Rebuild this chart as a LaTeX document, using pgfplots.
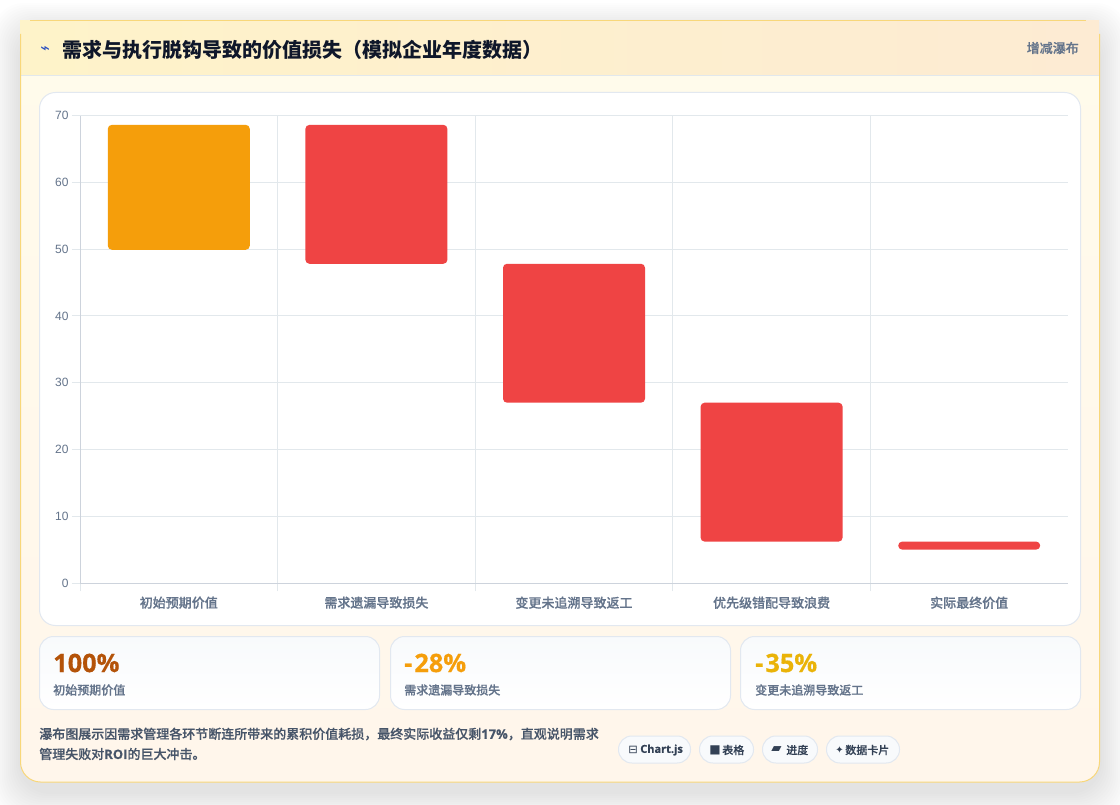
\documentclass[border=0pt]{standalone}
\usepackage{pgfplots}
\pgfplotsset{compat=1.18}
\usepackage{fontspec}
\setmainfont{Liberation Sans}
\newfontfamily\cjk{Noto Sans CJK SC}
\newfontfamily\cjkm[FakeBold=0.5]{Noto Sans CJK SC Medium}
\newfontfamily\num[BoldFeatures={FakeBold=0.5}]{Open Sans}
\newfontfamily\numl{Open Sans}
\newfontfamily\sym{DejaVu Sans}
\definecolor{cardline}{HTML}{F8D77A}
\definecolor{paneline}{HTML}{E2E8F0}
\definecolor{gridc}{HTML}{E2E8EC}
\definecolor{axisc}{HTML}{CDD3DC}
\definecolor{muted}{HTML}{64748B}
\definecolor{bodyc}{HTML}{475569}
\definecolor{pillc}{HTML}{334155}
\definecolor{titlec}{HTML}{0F172A}
\definecolor{orangebar}{HTML}{F59E0B}
\definecolor{redbar}{HTML}{EF4444}
\definecolor{brownc}{HTML}{B45309}
\definecolor{yellowc}{HTML}{EAB308}
\definecolor{boltc}{HTML}{2A4FC0}
\definecolor{bodytop}{HTML}{FFFBEB}
\definecolor{bodybot}{HTML}{FFF6EB}
\definecolor{headl}{HTML}{FEF3C9}
\definecolor{headr}{HTML}{FDEBD3}
\definecolor{statc}{HTML}{F8FAFC}
% floating bars: invisible base, then height
\pgfplotstableread{
x base height
1 47.8 20.8
2 27.0 20.8
3 6.2 20.8
4 5.0 1.2
}\redbars
\pgfplotstableread{
x base height
0 49.9 18.7
}\orangebars
\pgfplotsset{
  geom/.style={
    at={(60pt,165.75pt)}, anchor=south west,
    scale only axis, width=741pt, height=350.6pt,
    xmin=-0.5, xmax=4.5, ymin=0, ymax=70,
  },
  floating/.style={ybar stacked, bar width=106.5pt},
}
\tikzset{txt/.style={anchor=west,inner sep=0pt}}
\newcommand{\statnum}{\num\bfseries\fontsize{19pt}{22pt}\selectfont}
\newcommand{\statlab}{\cjkm\fontsize{9pt}{11pt}\selectfont}
\newcommand{\foot}{\cjkm\fontsize{9.75pt}{12pt}\selectfont}
\newcommand{\pill}{\cjkm\fontsize{8.25pt}{10pt}\selectfont}
\begin{document}
\begin{tikzpicture}
\path[use as bounding box] (0,0) rectangle (840pt,603pt);
\begin{scope}[x=0.75pt,y=-0.75pt,yshift=603pt]
  % page and shadow
  \fill[white] (0,0) rectangle (1120,804);
  \begin{scope}
    \clip (0,0) rectangle (1120,804);
    \foreach \i in {0,...,13}
      \fill[black,opacity=0.006,rounded corners=24pt]
        ({20-2*(14-\i)},{21+10-2*(14-\i)}) rectangle ({1100+2*(14-\i)},{782+10+2*(14-\i)});
  \end{scope}
  % card
  \shade[top color=bodytop,bottom color=bodybot,rounded corners=15pt] (20.5,30) rectangle (1099.5,782);
  \shade[left color=headl,right color=headr] (20,21) rectangle (1099,75);
  \draw[gridc,line width=0.75pt] (20.5,75.5) -- (1099,75.5);
  \draw[cardline,line width=0.75pt] (30,21) -- (1086,21);
  \draw[cardline,line width=0.75pt,rounded corners=15pt] (20.5,34) -- (20.5,782) -- (1099.5,782) -- (1099.5,34);
  % chart panel
  \draw[paneline,fill=white,line width=0.75pt,rounded corners=12pt] (39.5,92.5) rectangle (1080.5,625.5);
  % stat cards
  \foreach \a/\b in {39.5/379.5,390.5/730.5,740.5/1080.5}{
    \shade[top color=statc,bottom color=white,rounded corners=10.5pt] (\a,636.5) rectangle (\b,709.5);
    \draw[paneline,line width=0.75pt,rounded corners=10.5pt] (\a,636.5) rectangle (\b,709.5);
  }
  % pills
  \foreach \a/\b in {618.5/690.5,699.5/753.5,762.5/817.5,826.5/899.5}
    \draw[paneline,fill=statc,line width=0.75pt,rounded corners=10pt] (\a,736) rectangle (\b,763);
  % header text
  \node[txt,text=boltc] at (40,50) {\sym\fontsize{12pt}{12pt}\selectfont ⌁};
  \node[txt,text=titlec] at (62,50) {\cjk\bfseries\fontsize{15pt}{18pt}\selectfont 需求与执行脱钩导致的价值损失（模拟企业年度数据）};
  \node[anchor=east,inner sep=0pt,text=muted] at (1079,48) {\cjkm\fontsize{9.75pt}{12pt}\selectfont 增减瀑布};
  % stat text
  \node[txt,text=brownc] at (53,663) {\statnum 100\%};
  \node[txt,text=muted] at (53,690) {\statlab 初始预期价值};
  \node[txt,text=orangebar] at (404,663) {\statnum -\kern1.5pt 28\%};
  \node[txt,text=muted] at (404,690) {\statlab 需求遗漏导致损失};
  \node[txt,text=yellowc] at (755,663) {\statnum -\kern1.5pt 35\%};
  \node[txt,text=muted] at (755,690) {\statlab 变更未追溯导致返工};
  % footnote
  \node[txt,text=bodyc] at (39,734) {\foot 瀑布图展示因需求管理各环节断连所带来的累积价值耗损，最终实际收益仅剩{\num\bfseries 17\%}，直观说明需求};
  \node[txt,text=bodyc] at (39,754) {\foot 管理失败对{\num\bfseries ROI}的巨大冲击。};
  % pill text
  \node[txt,text=pillc] at (628,750) {\sym\fontsize{8.5pt}{9pt}\selectfont ⊟};
  \node[txt,text=pillc] at (640,750) {\num\bfseries\fontsize{8.25pt}{10pt}\selectfont Chart.js};
  \node[txt,text=pillc] at (709,750) {\sym\fontsize{9pt}{9pt}\selectfont ■};
  \node[txt,text=pillc] at (722,750) {\pill 表格};
  \node[txt,text=pillc] at (771,750) {\sym\fontsize{10pt}{9pt}\selectfont ▰};
  \node[txt,text=pillc] at (786,750) {\pill 进度};
  \node[txt,text=pillc] at (835,750) {\sym\fontsize{7.5pt}{9pt}\selectfont ✦};
  \node[txt,text=pillc] at (845,750) {\pill 数据卡片};
\end{scope}

\begin{axis}[
  geom, floating,
  axis lines=left,
  axis line style={-,color=axisc,line width=0.75pt},
  ytick={0,10,...,70},
  xtick={0,1,2,3,4},
  xticklabels={初始预期价值,需求遗漏导致损失,变更未追溯导致返工,优先级错配导致浪费,实际最终价值},
  minor xtick={-0.5,0.5,1.5,2.5,3.5},
  ymajorgrids, xminorgrids,
  major grid style={gridc,line width=0.75pt},
  minor grid style={gridc,line width=0.75pt},
  tick align=outside,
  major tick length=6pt, minor tick length=6pt,
  y tick style={gridc,line width=0.75pt},
  major x tick style={draw=none},
  minor x tick style={gridc,line width=0.75pt},
  yticklabel style={font=\fontsize{9pt}{11pt}\selectfont,text=muted,inner sep=0pt,xshift=-2.4pt},
  /pgf/number format/assume math mode=true,
  xticklabel style={font=\cjkm\fontsize{9.75pt}{12pt}\selectfont,text=muted,inner sep=0pt,yshift=-4pt},
]
  \addplot[draw=none,fill=none] table[x=x,y=base] {\redbars};
  \addplot[draw=none,fill=redbar,rounded corners=3pt] table[x=x,y=height] {\redbars};
\end{axis}
\begin{axis}[geom, floating, hide axis]
  \addplot[draw=none,fill=none] table[x=x,y=base] {\orangebars};
  \addplot[draw=none,fill=orangebar,rounded corners=3pt] table[x=x,y=height] {\orangebars};
\end{axis}
\end{tikzpicture}
\end{document}
